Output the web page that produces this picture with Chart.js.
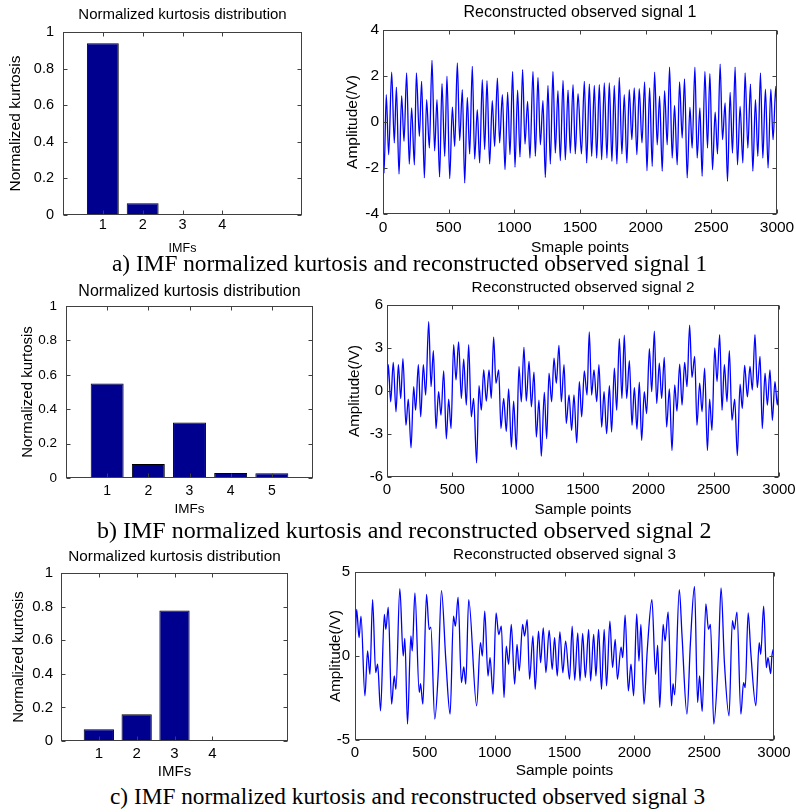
<!DOCTYPE html>
<html>
<head>
<meta charset="utf-8">
<script src="https://cdn.jsdelivr.net/npm/chart.js@4.4.0/dist/chart.umd.min.js"></script>
<style>
  html, body { margin: 0; padding: 0; background: #fff; overflow: hidden; }
  body { width: 796px; height: 812px; position: relative; }
  .plot { position: absolute; }
  .cap { position: absolute; font-family: "Liberation Serif", "Times New Roman", serif; line-height: 1; white-space: nowrap; color: #000; }
</style>
</head>
<body>
<div class="plot" id="wBarA"><canvas id="barA"></canvas></div>
<div class="plot" id="wSigA"><canvas id="sigA"></canvas></div>
<div class="plot" id="wBarB"><canvas id="barB"></canvas></div>
<div class="plot" id="wSigB"><canvas id="sigB"></canvas></div>
<div class="plot" id="wBarC"><canvas id="barC"></canvas></div>
<div class="plot" id="wSigC"><canvas id="sigC"></canvas></div>
<div class="cap" id="capA">a) IMF normalized kurtosis and reconstructed observed signal 1</div>
<div class="cap" id="capB">b) IMF normalized kurtosis and reconstructed observed signal 2</div>
<div class="cap" id="capC">c) IMF normalized kurtosis and reconstructed observed signal 3</div>
<script>
// normalized kurtosis of each IMF
var imfA = [1, 2, 3, 4];
var kurtA = [0.938, 0.064, 0.003, 0.002];
var imfB = [1, 2, 3, 4, 5];
var kurtB = [0.55, 0.081, 0.323, 0.029, 0.027];
var imfC = [1, 2, 3, 4];
var kurtC = [0.07, 0.159, 0.777, 0.003];

var barTicks = [0, 0.2, 0.4, 0.6, 0.8, 1];
var sampleTicks = [0, 500, 1000, 1500, 2000, 2500, 3000];

var sig1X = [0, 8, 25, 43, 66, 86, 102, 122, 142, 160, 180, 200, 218, 239, 254, 277, 294, 315, 332, 353,
  373, 393, 411, 431, 449, 470, 487, 508, 528, 546, 566, 584, 604, 622, 642, 660, 680, 698, 718, 736,
  756, 774, 792, 812, 832, 850, 871, 888, 909, 929, 949, 967, 987, 1005, 1025, 1043, 1063, 1081, 1101, 1119,
  1142, 1160, 1180, 1198, 1218, 1236, 1256, 1274, 1294, 1312, 1332, 1350, 1371, 1388, 1409, 1426, 1447, 1464, 1485, 1511,
  1533, 1551, 1571, 1589, 1609, 1627, 1647, 1665, 1685, 1705, 1723, 1743, 1761, 1781, 1799, 1819, 1837, 1857, 1875, 1895,
  1913, 1933, 1951, 1972, 1992, 2010, 2030, 2050, 2068, 2088, 2106, 2126, 2144, 2164, 2182, 2202, 2220, 2240, 2258, 2278,
  2296, 2316, 2337, 2354, 2375, 2392, 2413, 2430, 2451, 2471, 2489, 2509, 2529, 2547, 2567, 2585, 2605, 2623, 2643, 2661,
  2681, 2699, 2719, 2740, 2757, 2778, 2798, 2816, 2836, 2854, 2874, 2892, 2912, 2932, 2953, 2970, 2991, 3000];
var sig1Y = [-0.6, -2.22, 1.19, -1.42, 2.17, -0.91, 1.51, -2.26, 1.14, -0.84, 2.13, -1.83, 0.61, -1.86, 2.13, -0.62, 1.77, -2.43, 0.97, -1.13,
  2.68, -1.25, 0.97, -2.39, 1.67, -1.49, 1.99, -2.46, 0.65, -1.06, 2.57, -0.81, 1.41, -2.65, 1.07, -1.39, 2.42, -1.61, 0.54, -1.78,
  1.84, -1.2, 1.8, -1.83, 0.93, -1.06, 1.91, -0.91, 1.19, -2.07, 1.29, -1.42, 2.2, -1.97, 1.38, -1.52, 2.28, -0.96, 0.9, -1.57,
  2.2, -1.49, 1.94, -0.99, 0.93, -2.41, 1.59, -1.83, 2.2, -1.35, 1.36, -1.68, 1.81, -1.64, 1.39, -1.35, 1.62, -1.39, 1.23, -1.39,
  1.77, -1.78, 1.65, -1.49, 1.59, -1.57, 1.62, -1.64, 1.7, -1.57, 1.7, -1.71, 1.59, -1.83, 1.94, -1.39, 1.19, -1.78, 1.41, -0.77,
  1.48, -1.42, 1.45, -0.91, 1.74, -2.12, 1.48, -1.93, 2.17, -0.99, 1.12, -2.14, 1.36, -0.99, 2.38, -1.57, 0.72, -1.86, 1.74, -0.7,
  1.87, -2.43, 0.64, -1.13, 2.38, -1.57, 0.61, -2.36, 2.2, -1.13, 2.1, -2.07, 0.43, -1.39, 2.52, -0.77, 0.83, -2.58, 1.29, -1.35,
  2.39, -1.86, 0.68, -1.78, 2.13, -1.13, 1.65, -2.14, 0.97, -1.49, 2.13, -1.57, 1.43, -2.0, 1.43, -0.77, 1.55, 0.4];

var sig2X = [0, 10, 28, 48, 69, 87, 105, 122, 145, 163, 184, 204, 219, 240, 258, 278, 296, 319, 337, 355,
  375, 395, 413, 434, 454, 472, 490, 510, 528, 548, 569, 587, 607, 625, 645, 663, 686, 704, 722, 740,
  760, 781, 798, 816, 834, 855, 872, 893, 913, 931, 952, 969, 990, 1010, 1028, 1048, 1066, 1087, 1105, 1125,
  1143, 1163, 1181, 1204, 1222, 1240, 1260, 1278, 1296, 1316, 1334, 1355, 1372, 1393, 1413, 1431, 1452, 1472, 1490, 1510,
  1531, 1548, 1566, 1584, 1605, 1622, 1643, 1661, 1681, 1702, 1719, 1740, 1758, 1778, 1798, 1816, 1834, 1855, 1875, 1893,
  1913, 1931, 1949, 1969, 1987, 2008, 2026, 2046, 2064, 2084, 2102, 2122, 2140, 2161, 2181, 2202, 2219, 2240, 2258, 2278,
  2296, 2316, 2334, 2355, 2372, 2393, 2411, 2431, 2452, 2469, 2487, 2508, 2526, 2546, 2564, 2582, 2602, 2620, 2640, 2661,
  2681, 2702, 2719, 2737, 2758, 2778, 2796, 2816, 2834, 2855, 2872, 2893, 2911, 2931, 2949, 2969, 2987, 3000];
var sig2Y = [-0.05, 1.83, -0.75, 1.99, -1.45, 1.83, -0.52, 2.25, -2.39, -0.56, -3.96, 0.3, -1.34, 1.83, -1.8, 1.83, -0.28, 4.83, 0.3, 2.81,
  -2.62, -0.05, -1.69, 1.41, -3.33, -0.56, -2.62, 3.23, 0.77, 3.42, -0.52, 2.23, -0.98, 3.23, -1.8, -0.52, -5.02, 0.37, -1.34, 1.48,
  -0.7, 1.48, -0.52, 3.75, 0.54, 1.48, -2.62, -0.52, -2.81, 0.14, -3.91, -0.7, -4.08, 1.71, -0.75, 3.05, -0.7, 2.06, -1.1, 1.31,
  -3.21, -0.63, -4.55, -0.09, -3.33, 1.24, -0.75, 2.3, 0.54, 3.19, -0.75, 1.83, -2.27, -0.28, -2.74, -0.28, -3.61, 0.66, -1.8, 1.4,
  -0.28, 4.12, -0.28, 1.48, -0.75, 1.83, -2.51, -0.05, -2.98, 0.37, -2.86, 1.59, -1.34, 3.66, -0.52, 3.89, -0.52, 2.11, -2.39, 0.23,
  -2.67, 0.61, -3.45, -0.05, -1.57, 2.95, -0.05, 4.17, -0.87, 1.95, -0.52, 2.34, -2.51, 0.14, -4.15, 0.42, -1.41, 1.87, -0.98, 1.99,
  0.3, 4.59, 0.94, 2.41, -2.39, 0.54, -1.45, 1.59, -4.15, -0.56, -2.74, 3.0, 0.66, 3.94, -1.34, 1.83, -0.75, 2.81, -2.04, -0.56,
  -4.5, 0.47, -1.22, 1.78, -0.4, 1.71, 0.07, 3.94, 0.23, 2.41, -2.62, 1.24, -0.98, 1.48, -2.04, 0.66, -0.98, 0.5];

var sig3X = [0, 12, 29, 43, 71, 90, 107, 126, 148, 162, 183, 210, 221, 238, 262, 281, 293, 321, 345, 357,
  376, 400, 410, 429, 460, 469, 486, 512, 531, 543, 571, 596, 619, 650, 681, 705, 719, 738, 762, 779,
  793, 814, 871, 898, 912, 929, 952, 967, 988, 1010, 1029, 1048, 1067, 1083, 1100, 1119, 1143, 1160, 1176, 1200,
  1214, 1233, 1250, 1274, 1290, 1314, 1329, 1348, 1367, 1390, 1412, 1429, 1448, 1467, 1488, 1508, 1536, 1555, 1573, 1595,
  1611, 1630, 1649, 1673, 1687, 1709, 1725, 1744, 1765, 1784, 1801, 1825, 1844, 1863, 1879, 1905, 1917, 1934, 1957, 1976,
  1995, 2017, 2033, 2047, 2069, 2093, 2126, 2152, 2167, 2182, 2206, 2220, 2242, 2266, 2277, 2289, 2322, 2341, 2377, 2401,
  2431, 2453, 2467, 2486, 2512, 2531, 2545, 2569, 2602, 2621, 2645, 2678, 2702, 2716, 2735, 2763, 2782, 2794, 2815, 2834,
  2870, 2894, 2905, 2926, 2945, 2957, 2976, 2985, 3000];
var sig3Y = [0.69, 2.77, 1.09, 2.37, -2.37, 0.3, -1.09, 3.36, -0.99, -0.49, -3.26, 2.47, 1.58, 2.91, -2.87, -1.19, -1.98, 4.01, 0, 1.05,
  -4.05, 1.19, 0.3, 3.75, -2.17, -1.64, -2.87, 3.66, 1.58, 1.72, -3.75, -1.0, 3.89, -0.2, -3.46, 2.37, 1.78, 3.5, -1.58, -0.65,
  -1.68, 3.36, -2.96, 0.79, 0, 2.67, -1.19, -0.1, -2.27, 2.57, 1.28, 1.78, -2.47, 0.59, -0.49, 1.88, -1.68, 0.69, -0.89, 1.88,
  1.19, 2.17, -1.38, 1.19, -1.98, 1.48, -0.4, 1.68, -0.99, 1.52, -0.79, 1.09, -1.19, 1.44, -0.99, 0.89, -1.38, 1.78, -1.44, 1.38,
  -1.48, 1.34, -1.28, 1.58, -1.48, 1.28, -1.19, 1.58, -1.98, 1.58, -1.78, 2.08, -0.69, 0.99, -1.38, 0.53, -0.1, 2.43, -2.08, -0.49,
  -2.37, 2.51, -0.3, 1.88, -2.87, 0.4, 3.36, -1.09, 0.65, -3.06, 1.88, 0.89, 2.63, -2.96, -1.64, -2.31, 3.95, 1.28, -3.46, 0.69,
  4.15, -2.77, -1.19, -3.3, 3.1, 1.58, 1.88, -4.05, 0.06, 4.05, -0.4, -3.56, 2.11, 1.58, 2.61, -3.46, -1.58, -1.88, 2.57, 0.2,
  -2.96, 0.79, 0.1, 2.96, -0.69, -0.1, -1.05, 0, 0.5];

var sans = "'Liberation Sans', Arial, sans-serif";
Chart.defaults.color = "#000";
Chart.defaults.font.family = sans;

// draws the closed axes box and the inward tick marks on all four sides
var boxPlugin = {
  id: "matlabBox",
  afterDraw: function (chart) {
    var a = chart.chartArea;
    var ctx = chart.ctx;
    var xs = chart.scales.x;
    var ys = chart.scales.y;
    var l = Math.round(a.left) + 0.5, r = Math.round(a.right) - 0.5;
    var t = Math.round(a.top) + 0.5, b = Math.round(a.bottom) - 0.5;
    ctx.save();
    ctx.strokeStyle = "#404040";
    ctx.lineWidth = 1;
    ctx.beginPath();
    xs.ticks.forEach(function (tk) {
      var px = Math.round(xs.getPixelForValue(tk.value)) + 0.5;
      ctx.moveTo(px, b); ctx.lineTo(px, b - 4);
      ctx.moveTo(px, t); ctx.lineTo(px, t + 4);
    });
    ys.ticks.forEach(function (tk) {
      var py = Math.round(ys.getPixelForValue(tk.value)) + 0.5;
      ctx.moveTo(l, py); ctx.lineTo(l + 4, py);
      ctx.moveTo(r, py); ctx.lineTo(r - 4, py);
    });
    ctx.stroke();
    ctx.strokeRect(l, t, r - l, b - t);
    ctx.restore();
  }
};

// puts the wrapper so that the plot area lands on s.box = [left, top, right, bottom]
function place(id, s) {
  var lhT = s.titleSize * 1.2, lhY = s.yTitleSize * 1.2, lhX = s.xTitleSize * 1.2;
  var left = Math.round(s.yTitleX - lhY / 2);
  var top = Math.round(s.titleY - lhT / 2);
  var right = s.box[2] + s.padR;
  var bottom = Math.round(s.xTitleY + lhX / 2);
  var w = document.getElementById(id);
  w.style.left = left + "px";
  w.style.top = top + "px";
  w.style.width = (right - left) + "px";
  w.style.height = (bottom - top) + "px";
  return { wy: s.box[0] - left, hx: bottom - s.box[3], gap: s.box[1] - top - lhT };
}

function baseOptions(s, g) {
  return {
    responsive: true,
    maintainAspectRatio: false,
    animation: false,
    layout: { padding: { left: 0, top: 0, right: s.padR, bottom: 0 } },
    plugins: {
      legend: { display: false },
      tooltip: { enabled: false },
      title: {
        display: true, text: s.title, fullSize: false,
        font: { size: s.titleSize, weight: "normal", family: sans },
        padding: { top: 0, bottom: g.gap }
      }
    },
    scales: {
      x: {
        type: "linear",
        offset: false,
        grid: { display: false, drawTicks: false },
        border: { display: false },
        ticks: { font: { size: s.xTickSize }, padding: s.xPad, maxRotation: 0, autoSkip: false },
        title: { display: true, text: s.xTitle, font: { size: s.xTitleSize }, padding: 0 },
        afterFit: function (sc) { sc.height = g.hx; }
      },
      y: {
        grid: { display: false, drawTicks: false },
        border: { display: false },
        ticks: { font: { size: s.yTickSize }, padding: s.yPad },
        title: { display: true, text: s.yTitle, font: { size: s.yTitleSize }, padding: 0 },
        afterFit: function (sc) { sc.width = g.wy; }
      }
    }
  };
}

function barChart(canvasId, wrapId, s, imfs, vals) {
  var g = place(wrapId, s);
  var opt = baseOptions(s, g);
  opt.scales.x.min = 0;
  opt.scales.x.max = 6;
  opt.scales.x.afterBuildTicks = function (sc) {
    sc.ticks = imfs.map(function (v) { return { value: v }; });
  };
  opt.scales.x.ticks.callback = function (v) { return String(v); };
  opt.scales.y.min = 0;
  opt.scales.y.max = 1;
  opt.scales.y.afterBuildTicks = function (sc) {
    sc.ticks = barTicks.map(function (v) { return { value: v }; });
  };
  opt.scales.y.ticks.callback = function (v) { return String(v); };
  return new Chart(document.getElementById(canvasId), {
    type: "bar",
    data: {
      datasets: [{
        data: imfs.map(function (x, i) { return { x: x, y: vals[i] }; }),
        backgroundColor: "rgb(0, 0, 143)",
        borderColor: "#000",
        borderWidth: 1,
        barPercentage: 0.8,
        categoryPercentage: 1.0
      }]
    },
    options: opt,
    plugins: [boxPlugin]
  });
}

function signalChart(canvasId, wrapId, s, xs, ys, yTicks) {
  var g = place(wrapId, s);
  var opt = baseOptions(s, g);
  opt.scales.x.min = 0;
  opt.scales.x.max = 3000;
  opt.scales.x.afterBuildTicks = function (sc) {
    sc.ticks = sampleTicks.map(function (v) { return { value: v }; });
  };
  opt.scales.x.ticks.callback = function (v) { return String(v); };
  opt.scales.y.min = yTicks[0];
  opt.scales.y.max = yTicks[yTicks.length - 1];
  opt.scales.y.afterBuildTicks = function (sc) {
    sc.ticks = yTicks.map(function (v) { return { value: v }; });
  };
  opt.scales.y.ticks.callback = function (v) { return String(v); };
  return new Chart(document.getElementById(canvasId), {
    type: "line",
    data: {
      datasets: [{
        data: xs.map(function (x, i) { return { x: x, y: ys[i] }; }),
        borderColor: "rgb(0, 0, 255)",
        borderWidth: 1.3,
        pointRadius: 0,
        fill: false,
        cubicInterpolationMode: "monotone"
      }]
    },
    options: opt,
    plugins: [boxPlugin]
  });
}

barChart("barA", "wBarA", {
  box: [63, 32, 302, 215], padR: 24,
  title: "Normalized kurtosis distribution", titleY: 15, titleSize: 15,
  yTitle: "Normalized kurtosis", yTitleX: 15, yTitleSize: 15.5,
  xTitle: "IMFs", xTitleY: 248, xTitleSize: 12.5,
  yTickSize: 14.5, xTickSize: 14.5, yPad: 9, xPad: 1
}, imfA, kurtA);

signalChart("sigA", "wSigA", {
  box: [383, 30, 777, 214], padR: 22,
  title: "Reconstructed observed signal 1", titleY: 13, titleSize: 16,
  yTitle: "Amplitude(/V)", yTitleX: 352, yTitleSize: 15.5,
  xTitle: "Smaple points", xTitleY: 248, xTitleSize: 15.5,
  yTickSize: 15.5, xTickSize: 15.5, yPad: 4, xPad: 4
}, sig1X, sig1Y, [-4, -2, 0, 2, 4]);

barChart("barB", "wBarB", {
  box: [66, 306, 313, 478], padR: 24,
  title: "Normalized kurtosis distribution", titleY: 292, titleSize: 16,
  yTitle: "Normalized kurtosis", yTitleX: 28, yTitleSize: 15,
  xTitle: "IMFs", xTitleY: 509, xTitleSize: 13.5,
  yTickSize: 13.5, xTickSize: 14, yPad: 9, xPad: 5
}, imfB, kurtB);

signalChart("sigB", "wSigB", {
  box: [387, 305, 779, 477], padR: 22,
  title: "Reconstructed observed signal 2", titleY: 288, titleSize: 15.3,
  yTitle: "Amplitude(/V)", yTitleX: 355, yTitleSize: 15.2,
  xTitle: "Sample points", xTitleY: 510, xTitleSize: 15.3,
  yTickSize: 15, xTickSize: 15, yPad: 4, xPad: 3.5
}, sig2X, sig2Y, [-6, -3, 0, 3, 6]);

barChart("barC", "wBarC", {
  box: [61, 573, 288, 741], padR: 24,
  title: "Normalized kurtosis distribution", titleY: 557, titleSize: 15.3,
  yTitle: "Normalized kurtosis", yTitleX: 18.5, yTitleSize: 15,
  xTitle: "IMFs", xTitleY: 772, xTitleSize: 15,
  yTickSize: 15, xTickSize: 15, yPad: 8, xPad: 4
}, imfC, kurtC);

signalChart("sigC", "wSigC", {
  box: [355, 572, 774, 740], padR: 22,
  title: "Reconstructed observed signal 3", titleY: 555, titleSize: 15.3,
  yTitle: "Amplitude(/V)", yTitleX: 336, yTitleSize: 15.2,
  xTitle: "Sample points", xTitleY: 771, xTitleSize: 15.4,
  yTickSize: 15, xTickSize: 15, yPad: 5, xPad: 3.5
}, sig3X, sig3Y, [-5, 0, 5]);

// figure captions, placed by baseline
function caption(id, left, baseline, size) {
  var c = document.getElementById(id);
  c.style.fontSize = size + "px";
  c.style.left = left + "px";
  c.style.top = (baseline - 0.8375 * size) + "px";
}
caption("capA", 112, 272, 23.3);
caption("capB", 97, 538, 24);
caption("capC", 110, 805, 23.3);
</script>
</body>
</html>
